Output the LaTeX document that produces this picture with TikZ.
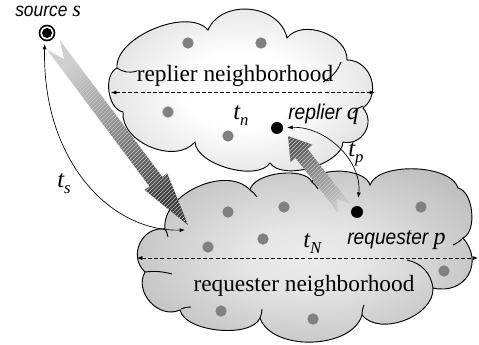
\documentclass[tikz,border=0pt]{standalone}
\usepackage{fontspec}
\setmainfont{Liberation Serif}
\newfontfamily\labelsans{Liberation Sans}[FakeStretch=0.9]
\usetikzlibrary{arrows.meta,patterns}

% soft radial glow used to fill the two neighbourhood clouds
\pgfdeclareradialshading{replierglow}{\pgfpoint{0bp}{0bp}}{%
  color(0bp)=(white); color(10bp)=(white); color(50bp)=(black!30); color(75bp)=(black!30)}
\pgfdeclareradialshading{requesterglow}{\pgfpoint{0bp}{0bp}}{%
  color(0bp)=(white!92!black); color(8bp)=(white!90!black); color(50bp)=(black!42); color(75bp)=(black!42)}

% t with a lowered italic index
\newcommand{\tsym}[1]{\textit{t}\raisebox{-0.45ex}{\fontsize{12.5}{13}\selectfont\itshape #1}}

\begin{document}
\begin{tikzpicture}[x=0.75pt,y=0.75pt,
  cloudedge/.style={draw=black,line width=0.7pt,shade},
  hint/.style={draw=black,line width=0.7pt},
  member/.style={circle,fill=black!50,minimum size=8.5pt,inner sep=0pt},
  peer/.style={circle,fill=black,minimum size=9pt,inner sep=0pt},
  span/.style={line width=0.5pt,dash pattern=on 3pt off 1.6pt,{Latex[length=4pt,width=3pt]}-{Latex[length=4pt,width=3pt]}},
  timearc/.style={line width=0.5pt,{Latex[length=4pt,width=3pt]}-{Latex[length=4pt,width=3pt]}},
  sanslabel/.style={font=\labelsans\itshape\fontsize{16}{18}\selectfont,inner sep=0pt},
  hoodlabel/.style={font=\fontsize{17.5}{20}\selectfont,inner sep=0pt},
  tlabel/.style={font=\rmfamily\itshape\fontsize{18.5}{20}\selectfont,inner sep=0pt},
  lobe/.style={bend left=72,looseness=#1}
]
\useasboundingbox (0,0) rectangle (479,-345);

% ---------- replier neighbourhood cloud ----------
\path[cloudedge,shading=replierglow]
  (117,-68) to[lobe=0.8] (208,-30) to[lobe=1.12] (287,-38) to[lobe=1.0] (347,-60)
  to[lobe=1.2] (363,-108) to[lobe=1.27] (343,-142) to[lobe=0.75] (270,-163)
  to[lobe=0.75] (195,-142) to[lobe=1.0] (123,-112) to[lobe=0.9] cycle;
\draw[hint] (117,-68) to[bend right=25] (137,-71);
\draw[hint] (341,-62) to[bend left=20] (323,-82);
\draw[hint] (353,-113) to[bend left=15] (363,-106);

% ---------- requester neighbourhood cloud ----------
\path[cloudedge,shading=requesterglow]
  (165,-229) to[lobe=0.95] (250,-190) to[lobe=0.72] (312,-182) to[lobe=0.76] (370,-185)
  to[lobe=0.72] (458,-188) to[lobe=0.8] (463,-238) to[lobe=1.45] (433,-288)
  to[lobe=0.95] (362,-315) to[lobe=0.9] (260,-318) to[lobe=0.72] (180,-310)
  to[lobe=1.15] (145,-272) to[lobe=1.27] cycle;
\draw[hint] (145,-272) to[bend left=10] (172,-274);
\draw[hint] (181,-309) to[bend left=10] (191,-307);
\draw[hint] (260,-318) to[bend right=10] (262,-309);
\draw[hint] (362,-315) to[bend left=10] (364,-305);
\draw[hint] (407,-260) to[bend left=35] (433,-288);
\draw[hint] (463,-238) to[bend left=10] (453,-245);
\draw[hint] (250,-190) to[bend left=10] (257,-197);
\draw[hint] (312,-182) to[bend left=10] (318,-189);
\draw[hint] (165,-229) to[bend left=10] (168,-237);

% ---------- members of the neighbourhoods ----------
\node[member] (r1) at (188,-43) {};
\node[member] (r2) at (261,-43) {};
\node[member] (r3) at (168,-112) {};
\node[member] (r4) at (228,-136) {};
\node[member] (m1) at (228,-212) {};
\node[member] (m2) at (284,-207) {};
\node[member] (m3) at (263,-239) {};
\node[member] (m4) at (208,-247) {};
\node[member] (m5) at (221,-311) {};
\node[member] (m6) at (421,-207) {};
\node[member] (m7) at (444,-271) {};
\node[member] (m8) at (313,-319) {};

% ---------- diameters ----------
\coordinate (rl) at (111,-92.5);
\coordinate (rr) at (375,-92.5);
\coordinate (ql) at (137,-258);
\coordinate (qr) at (478,-258);
\draw[span] (rl) -- (rr);
\draw[span] (ql) -- (qr);

% ---------- flood arrow from the source ----------
\path[top color=black!18,middle color=black!45,bottom color=black!78,shading angle=36.45,
      postaction={pattern=north east lines,pattern color=white!80!black,fill opacity=0.3}]
  (47.1,-49.75) -- (64.2,-59.5) -- (59.9,-40.25) -- (162.3,-176.85) -- (167.2,-173.3)
  -- (188,-225) -- (144.6,-189.9) -- (149.5,-186.4) -- cycle;

% ---------- reply arrow from requester to replier ----------
\path[top color=black!65,middle color=black!42,bottom color=black!22,shading angle=37.9,
      postaction={pattern=north east lines,pattern color=white!80!black,fill opacity=0.3}]
  (349.9,-203.4) -- (336.6,-198.5) -- (338.1,-212.6) -- (295.6,-158) -- (290.5,-162)
  -- (288,-136) -- (312.5,-144.8) -- (307.4,-148.8) -- cycle;

% ---------- peers ----------
\node[circle,fill=black,minimum size=12.5pt,inner sep=0pt] (src) at (47,-33) {};
\fill[white] (src.center) circle (6.6);
\fill[black] (src.center) circle (5);
\node[peer] (q) at (277,-128) {};
\node[peer] (p) at (357,-212) {};

% ---------- delays ----------
\coordinate (tsend) at (185,-230);
\draw[timearc,shorten <=2pt] (src.255) .. controls (42,-160) and (110,-232) .. (tsend);
\draw[timearc,shorten <=3pt,shorten >=6pt] (q) .. controls (325,-126) and (362,-160) .. (p);

% ---------- labels ----------
\node[sanslabel,font=\labelsans\itshape\fontsize{14.5}{16}\selectfont,anchor=base west] (srclab) at (15,-17)
  {source {\rmfamily\itshape\fontsize{16.5}{18}\selectfont s}};
\node[sanslabel,anchor=base west] (qlab) at (288,-120) {replier {\rmfamily\itshape\fontsize{18}{18}\selectfont q}};
\node[sanslabel,anchor=base west] (plab) at (347,-245) {requester {\rmfamily\itshape\fontsize{18}{18}\selectfont p}};
\node[hoodlabel,anchor=base] (rhood) at (235,-82) {replier neighborhood};
\node[hoodlabel,anchor=base] (qhood) at (304,-292) {requester neighborhood};
\node[tlabel,anchor=base west] (tslab) at (57,-188) {\tsym{s}};
\node[tlabel,anchor=base west] (tnlab) at (233,-120) {\tsym{n}};
\node[tlabel,anchor=base west] (tplab) at (348,-157) {\tsym{p}};
\node[tlabel,anchor=base west] (tNlab) at (303,-248) {\tsym{N}};
\end{tikzpicture}
\end{document}
